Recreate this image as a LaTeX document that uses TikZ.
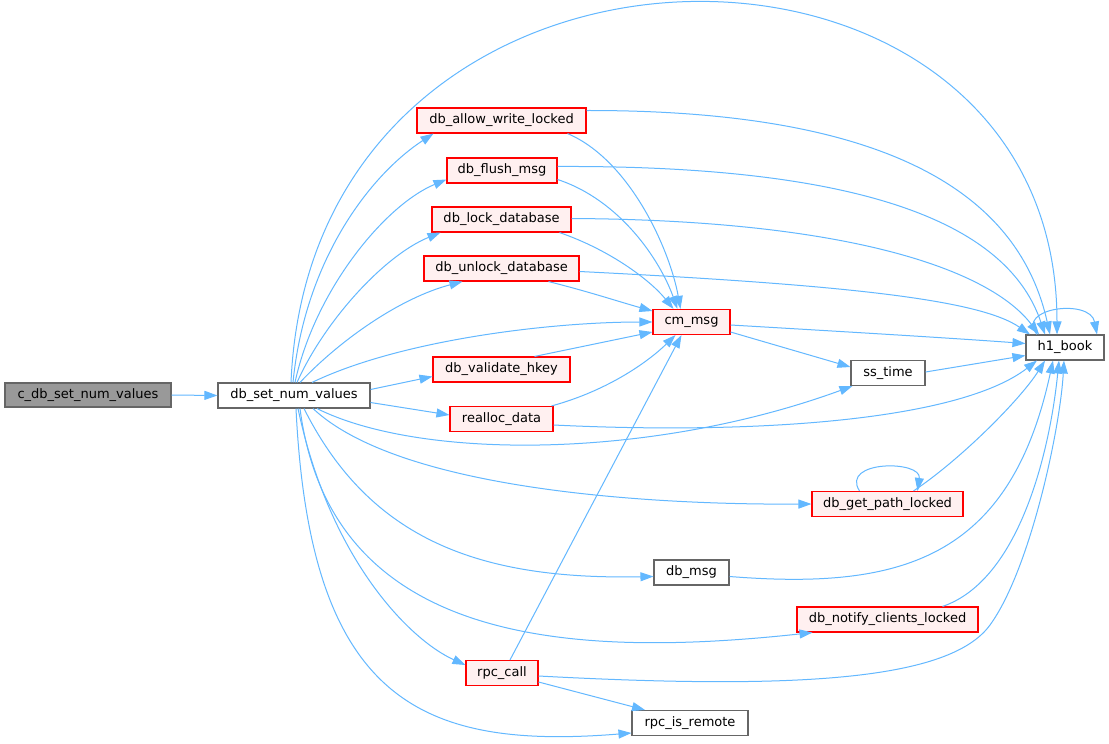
\documentclass[tikz,border=0pt]{standalone}
\usepackage{fontspec}
\setmainfont{DejaVu Sans}
\usetikzlibrary{arrows.meta}
\definecolor{edgec}{HTML}{63B8FF}
\definecolor{redb}{HTML}{FF0000}
\definecolor{redf}{HTML}{FFF0F0}
\definecolor{grayb}{HTML}{666666}
\definecolor{rootf}{HTML}{999999}
\tikzset{
  box/.style={draw=grayb, fill=white, line width=1.1pt, inner sep=0pt, minimum height=25pt, font=\fontsize{13}{15}\selectfont, text=black},
  redbox/.style={box, draw=redb, fill=redf},
  rootbox/.style={box, fill=rootf},
  call/.style={draw=edgec, line width=1pt, -{Triangle[length=13pt,width=9pt]}},
}
\begin{document}
\begin{tikzpicture}[x=1pt,y=-1pt]
\useasboundingbox (0,0) rectangle (1109,744);
\fill[white] (0,0) rectangle (1109,744);

% nodes
\node[rootbox, minimum width=166pt, minimum height=24pt] (root) at (88,395) {c\_db\_set\_num\_values};
\node[box, minimum width=152pt] (dsnv) at (294,395.5) {db\_set\_num\_values};
\node[redbox, minimum width=169pt] (awl) at (501.5,120.5) {db\_allow\_write\_locked};
\node[redbox, minimum width=110pt] (flush) at (502,170.5) {db\_flush\_msg};
\node[redbox, minimum width=139pt] (lock) at (501.5,219.5) {db\_lock\_database};
\node[redbox, minimum width=155pt] (unlock) at (501.5,268.5) {db\_unlock\_database};
\node[redbox, minimum width=77pt] (cm) at (691.5,322) {cm\_msg};
\node[redbox, minimum width=137pt] (valid) at (501.5,369.5) {db\_validate\_hkey};
\node[redbox, minimum width=103pt] (realloc) at (501.5,419) {realloc\_data};
\node[box, minimum width=74pt] (sstime) at (888,373) {ss\_time};
\node[box, minimum width=78pt] (h1) at (1065,347.5) {h1\_book};
\node[redbox, minimum width=151pt] (dgpl) at (887.5,504) {db\_get\_path\_locked};
\node[box, minimum width=75pt] (dbmsg) at (691.5,572.5) {db\_msg};
\node[redbox, minimum width=181pt] (notify) at (887.5,619.5) {db\_notify\_clients\_locked};
\node[redbox, minimum width=72pt] (rpc) at (502,673) {rpc\_call};
\node[box, minimum width=116pt] (remote) at (690,723) {rpc\_is\_remote};

% edges
\draw[call] (root.east) -- (dsnv.west);

\draw[call] ([xshift=-3pt]dsnv.north) .. controls (312,-115) and (1057,-115) .. ([xshift=-8pt]h1.north);
\draw[call] ([xshift=-1pt]dsnv.north) .. controls (305,260) and (370,175) .. ([xshift=-68pt]awl.south);
\draw[call] ([xshift=1pt]dsnv.north) .. controls (315,290) and (385,205) .. ([yshift=-9pt]flush.west);
\draw[call] ([xshift=3pt]dsnv.north) .. controls (325,320) and (385,255) .. ([xshift=-61pt]lock.south);
\draw[call] ([xshift=6pt]dsnv.north) .. controls (340,340) and (400,298) .. ([xshift=-39pt]unlock.south);
\draw[call] ([xshift=18pt]dsnv.north) .. controls (400,340) and (550,322) .. (cm.west);
\draw[call] ([yshift=6pt]dsnv.east) -- ([yshift=-7pt]valid.west);
\draw[call] ([yshift=-7pt]dsnv.east) -- ([yshift=4pt]realloc.west);
\draw[call] ([xshift=23pt]dsnv.south) .. controls (420,460) and (650,460) .. ([xshift=2pt]sstime.south west);
\draw[call] ([xshift=19pt]dsnv.south) .. controls (400,490) and (650,505) .. (dgpl.west);
\draw[call] ([xshift=10pt]dsnv.south) .. controls (370,540) and (480,580) .. ([yshift=-4pt]dbmsg.west);
\draw[call] ([xshift=6pt]dsnv.south) .. controls (330,640) and (560,660) .. ([xshift=-75pt]notify.south);
\draw[call] ([xshift=4pt]dsnv.south) .. controls (330,560) and (410,640) .. ([yshift=8pt]rpc.west);
\draw[call] ([xshift=2pt]dsnv.south) .. controls (310,700) and (420,750) .. ([yshift=-10pt]remote.west);

\draw[call] ([xshift=66pt]awl.south) .. controls (630,160) and (670,250) .. ([xshift=-11pt]cm.north);
\draw[call] ([yshift=10pt]awl.east) .. controls (900,110) and (1020,200) .. ([xshift=-15pt]h1.north);
\draw[call] ([yshift=-9pt]flush.east) .. controls (620,200) and (660,260) .. ([xshift=-14pt]cm.north);
\draw[call] ([yshift=4pt]flush.east) .. controls (880,165) and (1010,230) .. ([xshift=-20pt]h1.north);
\draw[call] ([xshift=58pt]lock.south) .. controls (610,250) and (650,280) .. ([xshift=-18pt]cm.north);
\draw[call] ([yshift=1pt]lock.east) .. controls (850,220) and (990,270) .. ([xshift=-26pt]h1.north);
\draw[call] ([xshift=47pt]unlock.south) .. controls (590,292) and (620,302) .. ([yshift=11pt]cm.west);
\draw[call] ([yshift=-3pt]unlock.east) .. controls (850,285) and (980,300) .. ([xshift=-35pt]h1.north);

\draw[call] ([yshift=-3pt]cm.east) .. controls (850,332) and (950,338) .. ([yshift=4pt]h1.west);
\draw[call] ([yshift=-10pt]cm.east) -- ([yshift=6pt]sstime.west);
\draw[call] ([xshift=33pt]valid.north) -- ([yshift=-10pt]cm.west);
\draw[call] ([xshift=50pt]realloc.north) .. controls (610,390) and (650,360) .. ([xshift=-16pt]cm.south);
\draw[call] ([yshift=-6pt]realloc.east) .. controls (760,435) and (960,420) .. ([xshift=-28pt]h1.south);
\draw[call] ([yshift=1pt]sstime.east) -- ([yshift=-8pt]h1.west);

\draw[call] ([xshift=-28pt]h1.north) .. controls (1015,308) and (1090,298) .. ([xshift=32pt]h1.north);
\draw[call] ([xshift=-28pt]dgpl.north) .. controls (840,460) and (922,460) .. ([xshift=30pt]dgpl.north);
\draw[call] ([xshift=26pt]dgpl.north) .. controls (960,460) and (1020,400) .. ([xshift=-20pt]h1.south);
\draw[call] ([yshift=-4pt]dbmsg.east) .. controls (900,590) and (1010,560) .. ([xshift=-12pt]h1.south);
\draw[call] ([xshift=55pt]notify.north) .. controls (1020,580) and (1050,450) .. ([xshift=-6pt]h1.south);
\draw[call] ([xshift=8pt]rpc.north) -- ([xshift=-10pt]cm.south);
\draw[call] ([yshift=-3pt]rpc.east) .. controls (800,690) and (950,680) .. (990,625) .. controls (1030,570) and (1060,430) .. ([xshift=-1pt]h1.south);
\draw[call] ([yshift=-9pt]rpc.east) -- ([xshift=-45pt]remote.north);
\end{tikzpicture}
\end{document}
